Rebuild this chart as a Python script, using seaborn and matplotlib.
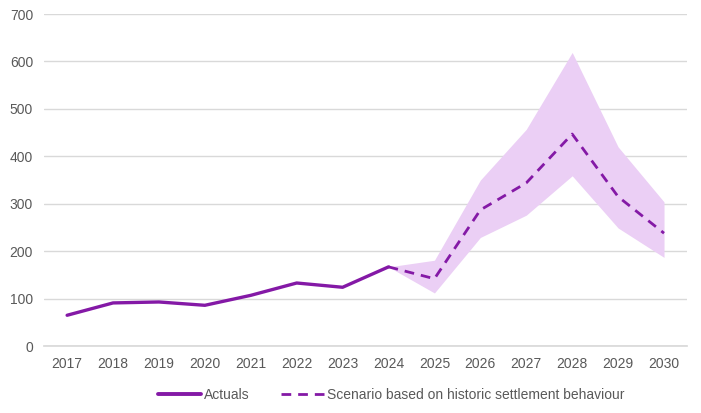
import pandas as pd
import seaborn as sns
import matplotlib.pyplot as plt
from matplotlib.lines import Line2D

years = [2017, 2018, 2019, 2020, 2021, 2022, 2023, 2024, 2025, 2026, 2027, 2028, 2029, 2030]
actual_years = [2017, 2018, 2019, 2020, 2021, 2022, 2023, 2024]
actuals = [65, 91, 93, 86, 107, 133, 124, 167]
scenario_years = [2024, 2025, 2026, 2027, 2028, 2029, 2030]
scenario = [167, 142, 287, 344, 447, 315, 238]
band_low = [167, 112, 229, 276, 359, 249, 187]
band_high = [167, 181, 350, 457, 619, 420, 304]

purple = "#8419A6"
fill = "#EBCFF5"
grey_text = "#595959"

sns.set_theme(style="white")
plt.rcParams["font.family"] = ["Liberation Sans", "DejaVu Sans"]

pos = {y: i for i, y in enumerate(years)}
df_act = pd.DataFrame({"x": [pos[y] for y in actual_years], "value": actuals})
df_sc = pd.DataFrame({"x": [pos[y] for y in scenario_years], "value": scenario,
                      "low": band_low, "high": band_high})

fig = plt.figure(figsize=(7.01, 4.13), dpi=100)
ax = fig.add_axes([0.063, 0.162, 0.917, 0.804])

ax.fill_between(df_sc["x"], df_sc["low"], df_sc["high"], color=fill, linewidth=0, zorder=1)
sns.lineplot(data=df_act, x="x", y="value", ax=ax, color=purple, linewidth=2.4, zorder=3)
sns.lineplot(data=df_sc, x="x", y="value", ax=ax, color=purple, linewidth=2.0, zorder=3)
ax.lines[-1].set_dashes((3.5, 2.5))

ax.set_xlim(-0.5, len(years) - 0.5)
ax.set_ylim(0, 700)
ax.set_yticks(range(0, 701, 100))
ax.set_xticks(range(len(years)))
ax.set_xticklabels([str(y) for y in years])
ax.set_xticks([i - 0.5 for i in range(len(years) + 1)], minor=True)
ax.tick_params(axis="x", which="major", length=0, pad=8, labelsize=10, labelcolor=grey_text)
ax.tick_params(axis="x", which="minor", length=5, color="#D9D9D9", width=1, direction="out")
ax.tick_params(axis="y", length=0, pad=8, labelsize=10, labelcolor=grey_text)
ax.set_xlabel("")
ax.set_ylabel("")

ax.yaxis.grid(True, color="#D9D9D9", linewidth=1)
ax.set_axisbelow(True)
for s in ["top", "right", "left"]:
    ax.spines[s].set_visible(False)
ax.spines["bottom"].set_color("#D9D9D9")

handles = [Line2D([], [], color=purple, linewidth=2.8),
           Line2D([], [], color=purple, linewidth=2.0, dashes=(3.5, 2.5))]
fig.legend(handles, ["Actuals", "Scenario based on historic settlement behaviour"],
           loc="center", bbox_to_anchor=(0.558, 0.043), ncol=2, frameon=False,
           fontsize=10, labelcolor=grey_text, handlelength=3.1, handletextpad=0.2,
           columnspacing=2.3)

fig.savefig("out.png", dpi=100)
